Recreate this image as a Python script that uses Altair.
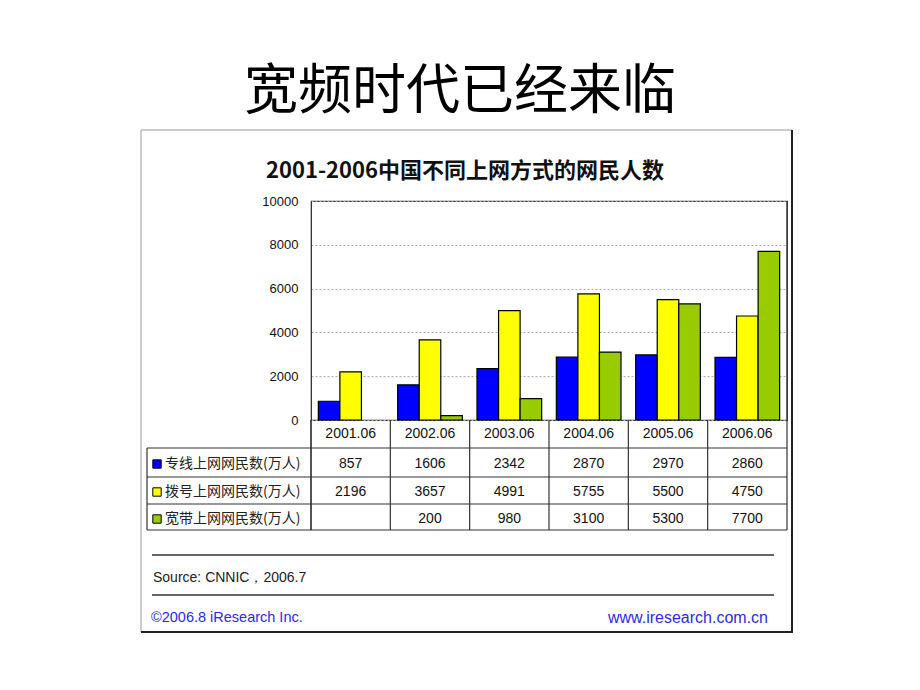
import altair as alt
import pandas as pd

page_title = "宽频时代已经来临"
chart_title = "2001-2006中国不同上网方式的网民人数"
categories = ["2001.06", "2002.06", "2003.06", "2004.06", "2005.06", "2006.06"]
series = ["专线上网网民数(万人)", "拨号上网网民数(万人)", "宽带上网网民数(万人)"]
dedicated = [857, 1606, 2342, 2870, 2970, 2860]
dialup = [2196, 3657, 4991, 5755, 5500, 4750]
broadband = [None, 200, 980, 3100, 5300, 7700]
colors = ["#0000ff", "#ffff00", "#99cc00"]
y_ticks = [0, 2000, 4000, 6000, 8000, 10000]
source_text = "Source: CNNIC，2006.7"
footer_left = "©2006.8 iResearch Inc."
footer_right = "www.iresearch.com.cn"

rows = []
for s, vals in zip(series, [dedicated, dialup, broadband]):
    for c, v in zip(categories, vals):
        if v is not None:
            rows.append({"cat": c, "series": s, "value": v})
df = pd.DataFrame(rows)
cat_df = pd.DataFrame({"cat": categories})
one = pd.DataFrame({"k": [0]})

LAT = "Liberation Sans"
CJK = "Noto Sans CJK SC"

xscale = alt.Scale(domain=categories, paddingInner=0, paddingOuter=0)


def X(**kw):
    return alt.X("cat:N", sort=categories, scale=xscale, axis=None, **kw)


def rule(x1, x2, y1, y2, color="#333", w=1.2):
    return alt.Chart(one).mark_rule(color=color, strokeWidth=w).encode(
        x=alt.value(x1), x2=alt.value(x2), y=alt.value(y1), y2=alt.value(y2))


def label(txt, x, y, size=13, color="#222", align="left", font=LAT, weight="normal"):
    return alt.Chart(one).mark_text(
        align=align, baseline="middle", fontSize=size, color=color, font=font,
        fontWeight=weight).encode(x=alt.value(x), y=alt.value(y), text=alt.value(txt))


layers = []

# outer box
layers.append(alt.Chart(one).mark_rect(fillOpacity=0, stroke="#999", strokeWidth=1).encode(
    x=alt.value(-170), x2=alt.value(481), y=alt.value(-71), y2=alt.value(431)))
layers.append(rule(481, 481, -71, 432, "#222", 2))
layers.append(rule(-170, 482, 431, 431, "#222", 2))

bars = alt.Chart(df).mark_bar(stroke="black", strokeWidth=1.2).encode(
    x=X(),
    xOffset=alt.XOffset("series:N", sort=series,
                        scale=alt.Scale(domain=series, paddingOuter=0.34, paddingInner=0)),
    y=alt.Y("value:Q", scale=alt.Scale(domain=[0, 10000]),
            axis=alt.Axis(values=y_ticks, title=None, ticks=False, labelPadding=13,
                          format="d", grid=True, gridDash=[2, 2], gridColor="#aaaaaa",
                          domainColor="#333", labelFont=LAT, labelFontSize=13,
                          labelColor="#111")),
    color=alt.Color("series:N", sort=series, scale=alt.Scale(domain=series, range=colors),
                    legend=None),
)
layers.append(bars)

# titles
layers.append(label(page_title, 149, -108, size=54, color="#000", align="center", font=CJK))
layers.append(label(chart_title, 154, -30, size=22, color="#111", align="center", font=CJK,
                    weight="bold"))

# table header labels
layers.append(alt.Chart(cat_df).mark_text(fontSize=14, font=LAT, color="#111").encode(
    x=X(), y=alt.value(233), text="cat:N"))

# table grid
row_y = [263, 291, 318]
for yy in [247, 276, 303, 329]:
    layers.append(rule(-164, 476, yy, yy))
layers.append(rule(-164, -164, 247, 329))
layers.append(rule(0, 0, 219, 329))
layers.append(rule(476, 476, 0, 329))
layers.append(alt.Chart(cat_df).mark_rule(color="#333", strokeWidth=1.2).encode(
    x=X(bandPosition=0), y=alt.value(219), y2=alt.value(329)))

# table rows
for i, s in enumerate(series):
    layers.append(alt.Chart(one).mark_square(size=70, filled=True, fill=colors[i],
                                             stroke="black", strokeWidth=1, opacity=1).encode(
        x=alt.value(-154), y=alt.value(row_y[i])))
    layers.append(label(s, -146, row_y[i], size=14, color="#222", font=CJK))
    layers.append(alt.Chart(df).transform_filter(alt.datum.series == s).mark_text(
        fontSize=14, font=LAT, color="#111").encode(
        x=X(), y=alt.value(row_y[i]), text=alt.Text("value:Q", format="d")))

# separators and footer
layers.append(rule(-159, 463, 354, 354, "#333", 1.5))
layers.append(rule(-159, 463, 394, 394, "#333", 1.5))
layers.append(label(source_text, -158, 377, size=14, color="#222"))
layers.append(label(footer_left, -160, 417, size=14.5, color="#2b2be6"))
layers.append(label(footer_right, 457, 417, size=16, color="#2b2be6", align="right"))

chart = alt.layer(*layers).properties(
    width=476, height=219,
    padding={"left": 303, "top": 193, "right": 125, "bottom": 262},
    autosize=alt.AutoSizeParams(type="none"),
    background="white",
).configure_view(stroke="#333", strokeWidth=1.2)

chart.save("out.html", embed_options={"renderer": "svg", "actions": False})
